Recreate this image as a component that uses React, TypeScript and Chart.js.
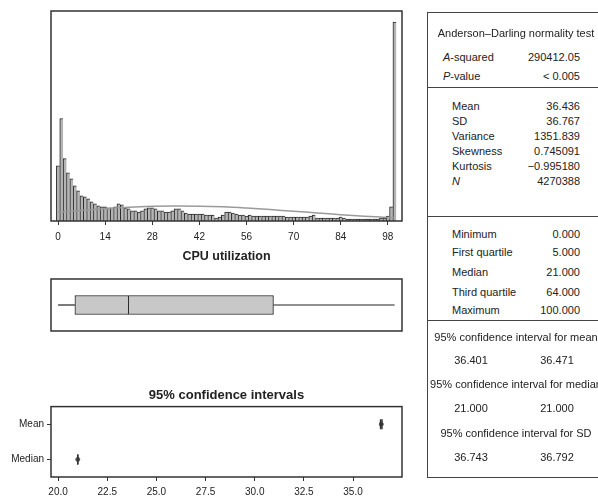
import React, { useEffect, useRef } from "react";
import { Chart, registerables } from "chart.js";

Chart.register(...registerables);

const FONT = '"Liberation Sans", Arial, Helvetica, sans-serif';
Chart.defaults.font.family = FONT;
Chart.defaults.color = "#222";

// ---------- histogram (CPU utilization, 1-unit bins 0..100; y axis hidden, relative frequency) ----------
const histTicks = [0, 14, 28, 42, 56, 70, 84, 98];
const freq = [
  55, 102, 62, 48, 42, 35, 30, 25, 24, 22,
  19, 17, 15, 14, 14, 13, 13, 14, 17, 16,
  13, 12, 10, 10, 9, 10, 12, 13, 13, 12,
  10, 10, 9, 9, 10, 12, 12, 10, 8, 7,
  7, 7, 7, 7, 6, 6, 6, 3, 4, 6,
  9, 9, 8, 7, 6, 6, 5, 6, 5, 5,
  5, 5, 5, 5, 5, 5, 5, 5, 4, 4,
  4, 4, 4, 4, 4, 5, 6, 3, 3, 3,
  3, 3, 3, 3, 4, 3, 2, 2, 2, 2,
  2, 2, 2, 2, 2, 2, 3, 3, 5, 14,
  198,
];
const binMid = freq.map((_, i) => i);
const histYMax = 209;

// fitted normal curve
const normalX = [0, 7, 14, 21, 28, 35, 42, 49, 56, 63, 70, 77, 84, 91, 98, 100];
const normalY = [9, 10.5, 12.3, 13.8, 14.7, 15, 14.8, 14.1, 12.9, 11.4, 9.7, 8, 6.3, 4.8, 3.6, 3.3];

// ---------- box plot ----------
const boxFive = [0, 5, 21, 64, 100]; // min, Q1, median, Q3, max

// ---------- confidence intervals ----------
const ciCats = ["Mean", "Median"];
const ciEst = [36.436, 21.0];
const ciLower = [36.401, 21.0];
const ciUpper = [36.471, 21.0];
const ciTicks = [20, 22.5, 25, 27.5, 30, 32.5, 35];

// ---------- summary table ----------
const adTitle = "Anderson–Darling normality test";
const adLabels = ["A-squared", "P-value"];
const adValues = ["290412.05", "< 0.005"];
const momentLabels = ["Mean", "SD", "Variance", "Skewness", "Kurtosis", "N"];
const momentValues = ["36.436", "36.767", "1351.839", "0.745091", "−0.995180", "4270388"];
const quantLabels = ["Minimum", "First quartile", "Median", "Third quartile", "Maximum"];
const quantValues = ["0.000", "5.000", "21.000", "64.000", "100.000"];
const ciTitles = [
  "95% confidence interval for mean",
  "95% confidence interval for median",
  "95% confidence interval for SD",
];
const ciTableLow = ["36.401", "21.000", "36.743"];
const ciTableHigh = ["36.471", "21.000", "36.792"];

const framePlugin = {
  id: "frame",
  afterDraw(chart: any) {
    const { ctx, chartArea: a } = chart;
    ctx.save();
    ctx.strokeStyle = "#333";
    ctx.lineWidth = 1.5;
    ctx.strokeRect(a.left, a.top, a.right - a.left, a.bottom - a.top);
    ctx.restore();
  },
};

function histConfig(): any {
  return {
    type: "bar",
    data: {
      datasets: [
        {
          type: "bar",
          data: freq.map((v, i) => ({ x: binMid[i], y: v })),
          backgroundColor: "#b4b4b4",
          borderColor: "#2a2a2a",
          borderWidth: { left: 1, top: 1, right: 0, bottom: 0 },
          borderSkipped: false,
          barPercentage: 1,
          categoryPercentage: 1,
          order: 1,
        },
        {
          type: "line",
          data: normalX.map((x, i) => ({ x, y: normalY[i] })),
          borderColor: "#9a9a9a",
          borderWidth: 1.5,
          pointRadius: 0,
          tension: 0.4,
          order: 0,
        },
      ],
    },
    options: {
      responsive: false,
      animation: false,
      layout: { padding: { left: 51, right: 8, top: 11, bottom: 0 } },
      plugins: { legend: { display: false }, tooltip: { enabled: false } },
      scales: {
        x: {
          type: "linear",
          min: -2.1,
          max: 102.2,
          offset: false,
          afterBuildTicks: (s: any) => {
            s.ticks = histTicks.map((v) => ({ value: v }));
          },
          ticks: { font: { size: 10 }, color: "#222", padding: 6, autoSkip: false, maxRotation: 0 },
          grid: { drawOnChartArea: false, tickLength: 4, color: "#333", offset: false },
          border: { display: false },
          title: {
            display: true,
            text: "CPU utilization",
            font: { size: 12.5, weight: "bold" },
            color: "#222",
            padding: { top: 0, bottom: 0 },
          },
        },
        y: { display: false, min: 0, max: histYMax },
      },
    },
    plugins: [framePlugin],
  };
}

function boxConfig(): any {
  const [mn, q1, med, q3, mx] = boxFive;
  return {
    type: "bar",
    data: {
      datasets: [
        {
          type: "bar",
          indexAxis: "y",
          data: [{ x: [q1, med], y: 0 }],
          backgroundColor: "#c8c8c8",
          borderColor: "#222",
          borderWidth: 1,
          borderSkipped: false,
          barThickness: 19,
          grouped: false,
        },
        {
          type: "bar",
          indexAxis: "y",
          data: [{ x: [med, q3], y: 0 }],
          backgroundColor: "#c8c8c8",
          borderColor: "#222",
          borderWidth: { left: 0, top: 1, right: 1, bottom: 1 },
          borderSkipped: false,
          barThickness: 19,
          grouped: false,
        },
        {
          type: "line",
          data: [{ x: mn, y: 0 }, { x: q1, y: 0 }],
          borderColor: "#222",
          borderWidth: 1.2,
          pointRadius: 0,
        },
        {
          type: "line",
          data: [{ x: q3, y: 0 }, { x: mx, y: 0 }],
          borderColor: "#222",
          borderWidth: 1.2,
          pointRadius: 0,
        },
      ],
    },
    options: {
      responsive: false,
      animation: false,
      layout: { padding: { left: 51, right: 8, top: 9, bottom: 9 } },
      plugins: { legend: { display: false }, tooltip: { enabled: false } },
      scales: {
        x: { type: "linear", min: -2.1, max: 102.2, display: false, offset: false },
        y: { type: "linear", min: -1, max: 1, display: false, offset: false },
      },
    },
    plugins: [framePlugin],
  };
}

function ciConfig(): any {
  return {
    type: "line",
    data: {
      datasets: [
        ...ciCats.map((c, i) => ({
          data: [
            { x: ciLower[i], y: c },
            { x: ciUpper[i], y: c },
          ],
          borderColor: "#333",
          borderWidth: 1.5,
          pointStyle: "line",
          pointRotation: 90,
          pointRadius: 5,
          pointBorderWidth: 1.5,
          pointBorderColor: "#333",
        })),
        {
          data: ciCats.map((c, i) => ({ x: ciEst[i], y: c })),
          showLine: false,
          pointStyle: "circle",
          pointRadius: 2,
          pointBackgroundColor: "#555",
          pointBorderColor: "#555",
        },
      ],
    },
    options: {
      responsive: false,
      animation: false,
      layout: { padding: { left: 0, right: 8, top: 0, bottom: 1 } },
      plugins: {
        legend: { display: false },
        tooltip: { enabled: false },
        title: {
          display: true,
          fullSize: false,
          text: "95% confidence intervals",
          font: { size: 13, weight: "bold" },
          color: "#222",
          padding: { top: 8, bottom: 3 },
        },
      },
      scales: {
        x: {
          type: "linear",
          min: 19.64,
          max: 37.49,
          afterBuildTicks: (s: any) => {
            s.ticks = ciTicks.map((v) => ({ value: v }));
          },
          ticks: {
            font: { size: 10 },
            color: "#222",
            padding: 5,
            autoSkip: false,
            maxRotation: 0,
            callback: (v: any) => Number(v).toFixed(1),
          },
          grid: { drawOnChartArea: false, tickLength: 4, color: "#333" },
          border: { display: false },
        },
        y: {
          type: "category",
          labels: ciCats,
          offset: true,
          afterFit: (s: any) => {
            s.width = 51;
          },
          ticks: { font: { size: 10 }, color: "#222", padding: 3 },
          grid: { drawOnChartArea: false, tickLength: 4, color: "#333", offset: false },
          border: { display: false },
        },
      },
    },
    plugins: [framePlugin],
  };
}

function ChartCanvas(props: { make: () => any; left: number; top: number; width: number; height: number }) {
  const ref = useRef<HTMLCanvasElement>(null);
  useEffect(() => {
    const chart = new Chart(ref.current as HTMLCanvasElement, props.make());
    return () => chart.destroy();
  }, []);
  return (
    <canvas
      ref={ref}
      width={props.width}
      height={props.height}
      style={{ position: "absolute", left: props.left, top: props.top, width: props.width, height: props.height }}
    />
  );
}

type TProps = { x: number; y: number; align?: "left" | "right" | "center"; children: React.ReactNode };
function T({ x, y, align = "left", children }: TProps) {
  const base: React.CSSProperties = {
    position: "absolute",
    top: y - 7,
    lineHeight: "14px",
    fontSize: 11,
    whiteSpace: "nowrap",
  };
  if (align === "right") return <div style={{ ...base, right: 598 - x }}>{children}</div>;
  if (align === "center")
    return <div style={{ ...base, left: x - 150, width: 300, textAlign: "center" }}>{children}</div>;
  return <div style={{ ...base, left: x }}>{children}</div>;
}

function italicFirst(label: string, italic: boolean) {
  if (!italic) return label;
  return (
    <>
      <i>{label[0]}</i>
      {label.slice(1)}
    </>
  );
}

export default function App() {
  const labX = 452;
  const valX = 580;
  const midX = 516;
  const adY = [57, 76];
  const momentY = [106, 121, 136, 151, 166, 181];
  const quantY = [234, 252, 272, 292, 310];
  const ciTitleY = [337, 384, 433];
  const ciValY = [360, 408, 457];
  return (
    <div
      style={{
        position: "absolute",
        left: 0,
        top: 0,
        width: 598,
        height: 499,
        overflow: "hidden",
        background: "#fff",
        fontFamily: FONT,
        color: "#222",
      }}
    >
      <ChartCanvas make={histConfig} left={0} top={0} width={410} height={264} />
      <ChartCanvas make={boxConfig} left={0} top={270} width={410} height={70} />
      <ChartCanvas make={ciConfig} left={0} top={380} width={410} height={124} />

      {/* summary table */}
      <div
        style={{
          position: "absolute",
          left: 427,
          top: 12,
          width: 180,
          height: 466,
          border: "1.5px solid #444",
          boxSizing: "border-box",
        }}
      />
      {[87, 216, 320].map((y) => (
        <div key={y} style={{ position: "absolute", left: 427, top: y, width: 180, height: 0, borderTop: "1.5px solid #444" }} />
      ))}

      <T x={midX} y={33} align="center">{adTitle}</T>
      {adLabels.map((l, i) => (
        <React.Fragment key={l}>
          <T x={443} y={adY[i]}>{italicFirst(l, true)}</T>
          <T x={valX} y={adY[i]} align="right">{adValues[i]}</T>
        </React.Fragment>
      ))}
      {momentLabels.map((l, i) => (
        <React.Fragment key={l}>
          <T x={labX} y={momentY[i]}>{l === "N" ? <i>N</i> : l}</T>
          <T x={valX} y={momentY[i]} align="right">{momentValues[i]}</T>
        </React.Fragment>
      ))}
      {quantLabels.map((l, i) => (
        <React.Fragment key={l}>
          <T x={labX} y={quantY[i]}>{l}</T>
          <T x={valX} y={quantY[i]} align="right">{quantValues[i]}</T>
        </React.Fragment>
      ))}
      {ciTitles.map((t, i) => (
        <React.Fragment key={t}>
          <T x={midX} y={ciTitleY[i]} align="center">{t}</T>
          <T x={471} y={ciValY[i]} align="center">{ciTableLow[i]}</T>
          <T x={557} y={ciValY[i]} align="center">{ciTableHigh[i]}</T>
        </React.Fragment>
      ))}
    </div>
  );
}
